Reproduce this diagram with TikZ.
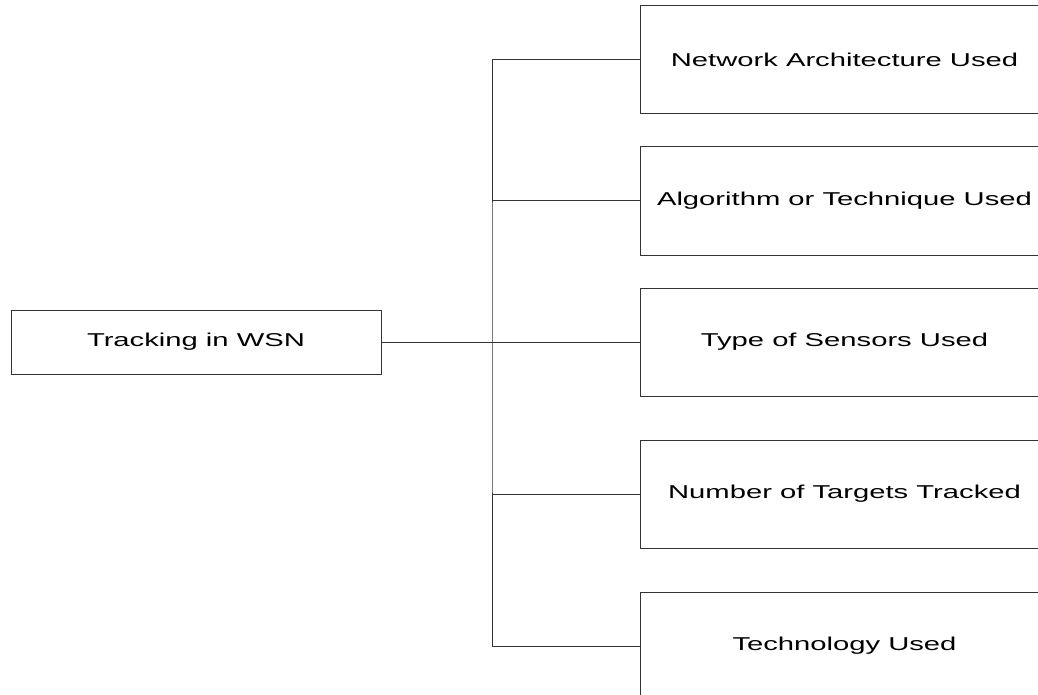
\documentclass[tikz,border=0pt]{standalone}
\usepackage{graphicx}
\usepackage{fontspec}
\setmainfont{Liberation Sans}
\newcommand{\wide}[1]{\scalebox{1.57}[1]{#1}}
\tikzset{
  x=1pt, y=-1pt,
  box/.style={draw=black!80, line width=1pt, fill=white, inner sep=0pt,
    font=\fontsize{18.6}{20}\selectfont},
  rootbox/.style={box, minimum width=370pt, minimum height=64pt},
  catbox/.style={box, anchor=west, minimum width=408pt, minimum height=108pt},
  link/.style={draw=black!80, line width=1pt}
}
\begin{document}
\begin{tikzpicture}
  \useasboundingbox (0,0) rectangle (1038,695);
  \clip (0,0) rectangle (1038,695);
  \fill[white] (0,0) rectangle (1038,695);

  % root of the classification
  \node[rootbox] (root) at (196,342) {\wide{Tracking in WSN}};

  % categories
  \node[catbox] (b1) at (640,60)  {\wide{Network Architecture Used}};
  \node[catbox] (b2) at (640,201) {\wide{Algorithm or Technique Used}};
  \node[catbox] (b3) at (640,342) {\wide{Type of Sensors Used}};
  \node[catbox] (b4) at (640,494) {\wide{Number of Targets Tracked}};
  \node[catbox] (b5) at (640,646) {\wide{Technology Used}};

  % trunk position
  \coordinate (tr) at (492,342);

  % connectors
  \draw[link] (root.east) -- (b3.west);
  \draw[link] (b1.west) -| (tr) |- (b5.west);
  \draw[link] (b2.west) -- (b2.west -| tr);
  \draw[link] (b4.west) -- (b4.west -| tr);
\end{tikzpicture}
\end{document}
